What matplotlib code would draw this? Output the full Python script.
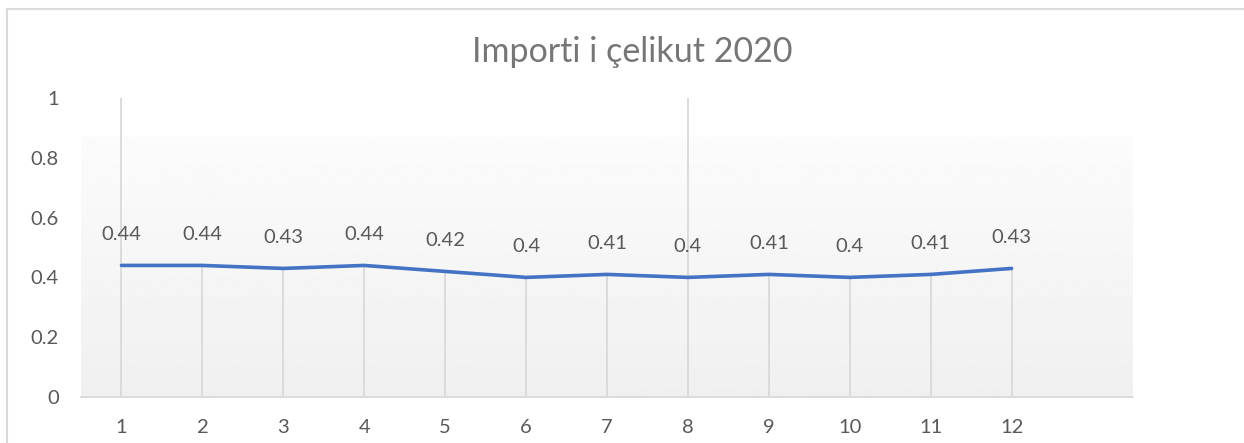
import matplotlib.pyplot as plt
import numpy as np
from matplotlib.lines import Line2D

months = [1, 2, 3, 4, 5, 6, 7, 8, 9, 10, 11, 12]
values = [0.44, 0.44, 0.43, 0.44, 0.42, 0.40, 0.41, 0.40, 0.41, 0.40, 0.41, 0.43]
labels = ["0.44", "0.44", "0.43", "0.44", "0.42", "0.4", "0.41", "0.4", "0.41", "0.4", "0.41", "0.43"]
full_lines = [1, 8]
yticks = [0, 0.2, 0.4, 0.6, 0.8, 1]
ytick_labels = ["0", "0.2", "0.4", "0.6", "0.8", "1"]

plt.rcParams['font.family'] = ['Lato', 'DejaVu Sans']

fig = plt.figure(figsize=(12.44, 4.43), dpi=100)
ax = fig.add_axes([81 / 1244, 1 - 397 / 443, (1133 - 81) / 1244, (397 - 98) / 443])

# soft grey gradient behind the plot
grad = np.linspace(0.94, 0.985, 200).reshape(-1, 1)
ax.imshow(grad, cmap='gray', vmin=0, vmax=1, origin='lower', aspect='auto',
          extent=(0.5, 13.5, 0, 0.87), zorder=0)

ax.set_xlim(0.5, 13.5)
ax.set_ylim(0, 1)

# drop lines
for m, v in zip(months, values):
    top = 1 if m in full_lines else v
    ax.vlines(m, 0, top, color='#d9d9d9', lw=1.3, zorder=1)

ax.plot(months, values, color='#4472c4', lw=2.6, solid_capstyle='round', zorder=3)

for m, v, t in zip(months, values, labels):
    ax.annotate(t, (m, v), xytext=(0, 22), textcoords='offset points',
                ha='center', va='center', fontsize=14.5, color='#595959')

ax.set_xticks(months)
ax.set_xticklabels([str(m) for m in months])
ax.set_yticks(yticks)
ax.set_yticklabels(ytick_labels)
ax.tick_params(axis='both', length=0, labelsize=14.5, labelcolor='#595959')
ax.tick_params(axis='y', pad=16)
ax.tick_params(axis='x', pad=16)
for s in ['top', 'right', 'left']:
    ax.spines[s].set_visible(False)
ax.spines['bottom'].set_color('#d9d9d9')
ax.spines['bottom'].set_linewidth(1.3)
ax.spines['bottom'].set_zorder(2)

fig.text(632 / 1244, 1 - 52 / 443, "Importi i çelikut 2020", ha='center', va='center',
         fontsize=24.5, color='#767676')

# chart border (cropped)
fig.add_artist(Line2D([7.5 / 1244, 7.5 / 1244], [0, 1 - 9 / 443], color='#d9d9d9', lw=1.5))
fig.add_artist(Line2D([7.5 / 1244, 1], [1 - 9 / 443, 1 - 9 / 443], color='#d9d9d9', lw=1.5))

fig.savefig('out.png', dpi=100)
